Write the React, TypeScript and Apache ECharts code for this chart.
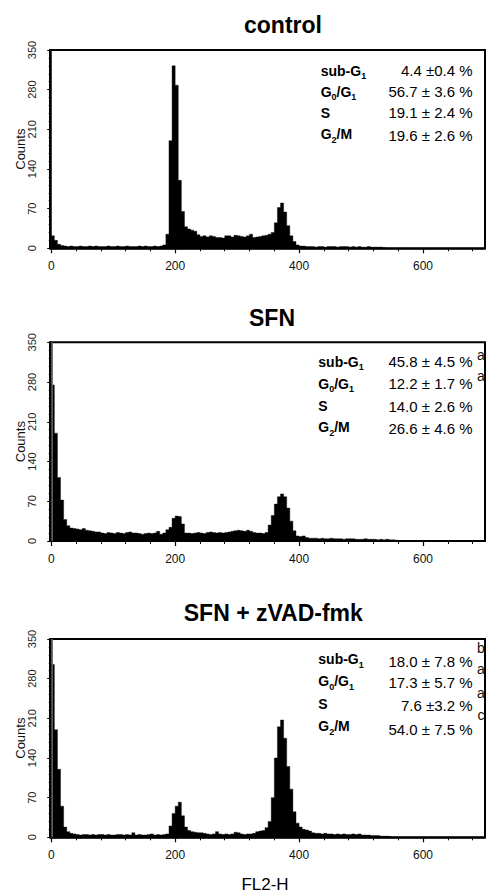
import React, { useEffect, useRef } from "react";
import * as echarts from "echarts";

// ---- data (FL2-H histogram, 5-channel bins starting at 0) ----
const BIN_WIDTH = 5;
const X_MIN = -2;
const X_MAX = 700;

const controlCounts = [
  22, 14, 7, 5,
  4, 3, 4, 3, 3, 4, 3, 3, 4, 3, 4, 3, 3, 3, 4, 3, 3, 4, 3, 3, 4, 3, 3, 3, 4, 3, 4, 3, 3, 4, 3, 4,
  6, 25, 190, 322, 288, 120, 65, 38, 34, 32, 30, 24, 21, 22, 20, 22, 21, 19, 19, 18, 22, 22, 20, 23,
  22, 21, 20, 22, 25, 19, 20, 21, 22, 23, 25, 28, 45, 72, 80, 64, 40, 22, 12, 6, 4,
  4, 3, 3, 3, 2, 3, 3, 2, 3, 3, 3, 2, 3, 3, 3, 2, 3,
  2, 3, 2, 2, 3, 2, 2, 2, 2, 1,
  0, 0, 0, 0, 0, 0, 0, 0, 0, 0, 0, 0, 0, 0, 0, 0, 0, 0, 0, 0, 0, 0, 0, 0, 0, 0, 0, 0, 0, 0, 0, 0,
];

const sfnCounts = [
  275, 190, 112, 72, 38, 27, 23, 22, 21, 20, 22, 19, 18, 17, 16, 16, 14, 13, 15, 14, 13, 15, 14, 13,
  15, 16, 14, 14, 13, 12, 13, 14, 13, 14, 17, 12, 14, 20, 24, 40, 44, 43, 30, 14,
  14, 13, 14, 15, 14, 13, 15, 16, 15, 14, 15, 14, 15, 16, 17, 18, 19, 18, 17, 19, 17, 15, 14, 14, 13, 15,
  28, 45, 65, 78, 83, 78, 58, 35, 18, 9, 8, 9, 6, 5,
  5, 5, 4, 5, 4, 4, 5, 4, 4, 4, 3, 4, 4, 4,
  3, 3, 3, 4, 3, 3, 3, 2, 3, 2, 3, 2, 2, 1,
  0, 0, 0, 0, 0, 0, 0, 0, 0, 0, 0, 0, 0, 0, 0, 0, 0, 0, 0, 0, 0, 0, 0, 0, 0, 0, 0, 0,
];

const zvadCounts = [
  305, 190, 120, 55, 18, 10, 7, 6,
  5, 4, 5, 5, 4, 5, 4, 5, 5, 4, 5, 4, 4, 5, 5, 4, 5, 4, 8, 4, 5, 4, 4, 5, 6, 4, 5, 4, 5,
  6, 20, 42, 55, 62, 38, 18, 12, 10, 9, 8, 8, 7,
  6, 5, 6, 10, 6, 5, 6, 5, 6, 9, 8, 6, 5, 6, 6, 7, 10, 11,
  12, 17, 28, 70, 140, 195, 207, 175, 125, 85, 45, 25, 18, 14, 13, 11, 8,
  7, 7, 6, 7, 6, 6, 5, 6, 5, 6, 5, 5, 6,
  5, 6, 4, 4, 4, 3, 3, 3, 2, 2, 2, 1,
  0, 0, 0, 0, 0, 0, 0, 0, 0, 0, 0, 0, 0, 0, 0, 0, 0, 0, 0, 0, 0, 0, 0, 0, 0, 0, 0, 0, 0, 0,
];

// first channel off-scale events (clipped at the top of the plot)
const sfnOverflow = [[1.5, 420]];
const zvadOverflow = [[1.5, 410]];

const panelTitles = ["control", "SFN", "SFN + zVAD-fmk"];
const phaseLabels = ["{b|sub-G}{s|1}", "{b|G}{s|0}{b|/G}{s|1}", "{b|S}", "{b|G}{s|2}{b|/M}"];
const controlStats = ["4.4 \u00b10.4 %", "56.7 \u00b1 3.6 %", "19.1 \u00b1 2.4 %", "19.6 \u00b1 2.6 %"];
const sfnStats = ["45.8 \u00b1 4.5 %", "12.2 \u00b1 1.7 %", "14.0 \u00b1 2.6 %", "26.6 \u00b1 4.6 %"];
const zvadStats = ["18.0 \u00b1 7.8 %", "17.3 \u00b1 5.7 %", "7.6 \u00b13.2 %", "54.0 \u00b1 7.5 %"];
const sfnMarks = ["a", "a"];
const zvadMarks = ["b", "a", "a", "c"];

const xMajorTicks = [0, 200, 400, 600];
const xMinorTicks = [40, 80, 120, 160, 240, 280, 320, 360, 440, 480, 520, 560, 640, 680];
const yMax = 350;
const yStep = 70;
const xAxisTitle = "FL2-H";
const yAxisTitle = "Counts";

// ---- layout ----
const FONT = '"Liberation Sans", Arial, Helvetica, sans-serif';
const panels = [
  {
    counts: controlCounts, overflow: null as number[][] | null, stats: controlStats, marks: [] as string[],
    top: 50, height: 198.3, titleX: 283, titleY: 25, labelX: 320.7,
    labelRows: [70.5, 91.5, 112.5, 134], valueRows: [70.5, 91.5, 112.5, 135], markRows: [] as number[],
  },
  {
    counts: sfnCounts, overflow: sfnOverflow, stats: sfnStats, marks: sfnMarks,
    top: 342.3, height: 198.7, titleX: 272, titleY: 318, labelX: 318.3,
    labelRows: [361.7, 383.5, 405.5, 427], valueRows: [361.7, 383.8, 406, 428], markRows: [354.5, 375.5],
  },
  {
    counts: zvadCounts, overflow: zvadOverflow, stats: zvadStats, marks: zvadMarks,
    top: 639, height: 198.3, titleX: 273.3, titleY: 613, labelX: 318.3,
    labelRows: [659, 681, 703.5, 726], valueRows: [661, 682.5, 705, 729.5], markRows: [648.3, 669.3, 693.3, 715],
  },
];

function histogramRenderer(counts: number[]) {
  return (_params: any, api: any) => {
    const pts: number[][] = [api.coord([0, 0])];
    counts.forEach((c, k) => {
      pts.push(api.coord([k * BIN_WIDTH, c]));
      pts.push(api.coord([(k + 1) * BIN_WIDTH, c]));
    });
    pts.push(api.coord([counts.length * BIN_WIDTH, 0]));
    return {
      type: "polygon",
      shape: { points: pts },
      style: { fill: "#000", stroke: "#000", lineWidth: 0.4 },
    };
  };
}

function buildOption() {
  const grid: any[] = [];
  const xAxis: any[] = [];
  const yAxis: any[] = [];
  const series: any[] = [];
  const graphic: any[] = [];

  panels.forEach((p, i) => {
    grid.push({
      left: 50, width: 435, top: p.top, height: p.height,
      show: true, borderColor: "#000", borderWidth: 2, backgroundColor: "transparent",
    });
    xAxis.push({
      type: "value", gridIndex: i, min: X_MIN, max: X_MAX, position: "bottom",
      axisLine: { show: true, onZero: false, lineStyle: { color: "#000", width: 1.5 } },
      axisTick: { show: true, customValues: xMajorTicks, length: 5, lineStyle: { color: "#000", width: 1.2 } },
      axisLabel: { customValues: xMajorTicks, fontSize: 12, color: "#111", margin: 12, fontFamily: FONT },
      splitLine: { show: false },
    });
    xAxis.push({
      type: "value", gridIndex: i, min: X_MIN, max: X_MAX, position: "bottom",
      axisLine: { show: false, onZero: false },
      axisTick: { show: true, customValues: xMinorTicks, length: 3, lineStyle: { color: "#000", width: 1 } },
      axisLabel: { show: false },
      splitLine: { show: false },
    });
    yAxis.push({
      type: "value", gridIndex: i, min: 0, max: yMax, interval: yStep,
      axisLine: { show: true, lineStyle: { color: "#000", width: 1.5 } },
      axisTick: { show: true, length: 4, lineStyle: { color: "#000", width: 1 } },
      minorTick: { show: true, splitNumber: 5, length: 2.5, lineStyle: { color: "#000", width: 1 } },
      axisLabel: { rotate: 90, fontSize: 11, color: "#222", margin: 12.5, fontFamily: FONT },
      splitLine: { show: false },
      minorSplitLine: { show: false },
      name: yAxisTitle, nameLocation: "middle", nameRotate: 90, nameGap: 23, nameMoveOverlap: false,
      nameTextStyle: { fontSize: 13, color: "#111", fontFamily: FONT },
    });

    series.push({
      type: "custom", xAxisIndex: 2 * i, yAxisIndex: i, data: [[0, 0]], clip: true, silent: true,
      renderItem: histogramRenderer(p.counts),
    });
    if (p.overflow) {
      series.push({
        type: "bar", xAxisIndex: 2 * i, yAxisIndex: i, data: p.overflow, barWidth: 1.5,
        silent: true, itemStyle: { color: "#666" },
      });
    }

    graphic.push({
      type: "text", x: p.titleX, y: p.titleY,
      style: { text: panelTitles[i], font: `bold 23px ${FONT}`, fill: "#000", align: "center", verticalAlign: "middle" },
    });
    phaseLabels.forEach((lab, r) => {
      graphic.push({
        type: "text", x: p.labelX, y: p.labelRows[r],
        style: {
          text: lab, align: "left", verticalAlign: "middle", fill: "#000",
          rich: {
            b: { fontSize: 14, fontWeight: "bold", fontFamily: FONT, lineHeight: 20, verticalAlign: "middle", fill: "#000" },
            s: { fontSize: 9, fontWeight: "bold", fontFamily: FONT, lineHeight: 9, verticalAlign: "bottom", fill: "#000" },
          },
        },
      });
      graphic.push({
        type: "text", x: 472.5, y: p.valueRows[r],
        style: { text: p.stats[r], font: `15px ${FONT}`, fill: "#000", align: "right", verticalAlign: "middle" },
      });
    });
    p.marks.forEach((m, r) => {
      graphic.push({
        type: "text", x: 481, y: p.markRows[r], z: 100,
        style: { text: m, font: `14px ${FONT}`, fill: "#111", align: "center", verticalAlign: "middle" },
      });
    });
  });

  graphic.push({
    type: "text", x: 265, y: 884,
    style: { text: xAxisTitle, font: `17px ${FONT}`, fill: "#000", align: "center", verticalAlign: "middle" },
  });

  return {
    animation: false,
    backgroundColor: "#fff",
    textStyle: { fontFamily: FONT },
    grid, xAxis, yAxis, series, graphic,
  };
}

export default function App() {
  const ref = useRef<HTMLDivElement>(null);
  useEffect(() => {
    if (!ref.current) return;
    const chart = echarts.init(ref.current, null, { renderer: "svg" });
    chart.setOption(buildOption() as any);
    return () => chart.dispose();
  }, []);
  return (
    <div
      ref={ref}
      style={{ position: "fixed", left: 0, top: 0, width: 488, height: 896, background: "#fff" }}
    />
  );
}
